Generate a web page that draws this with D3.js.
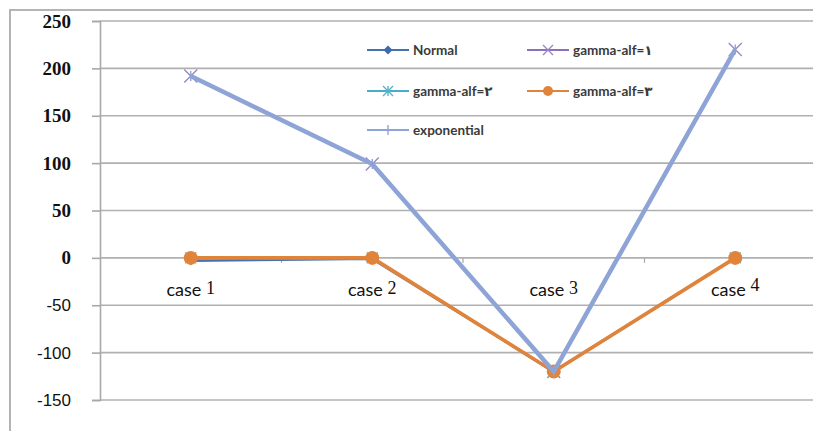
<!DOCTYPE html>
<html>
<head>
<meta charset="utf-8">
<script src="https://cdn.jsdelivr.net/npm/d3@7"></script>
<style>
  html, body { margin: 0; padding: 0; background: #fff; overflow: hidden; }
  svg { display: block; }
</style>
</head>
<body>
<svg id="chart" width="813" height="431"></svg>
<script>
// Categories and series values
const categories = ["1", "2", "3", "4"];
const seriesNames = ["Normal", "gamma-alf=\u0661", "gamma-alf=\u0662", "gamma-alf=\u0663", "exponential"];
const normalValues = [-3, -1, -120, 0];
const gamma1Values = [192, 99, -120, 220];
const gamma2Values = [0, 0, -120, 0];
const gamma3Values = [0, 0, -120, 0];
const exponentialValues = [192, 99, -120, 220];
const yTicks = [250, 200, 150, 100, 50, 0, -50, -100, -150];

const svg = d3.select("#chart");

// Plot area
const plotLeft = 100, plotTop = 21, plotBottom = 400, plotRight = 826;

const x = d3.scaleBand().domain(categories).range([plotLeft, plotRight]).padding(0);
const y = d3.scaleLinear().domain([-150, 250]).range([plotBottom, plotTop]);

// Outer frame (top and left edges)
svg.append("path")
  .attr("d", "M10,431 V10 H813")
  .attr("fill", "none").attr("stroke", "#b4b4b4").attr("stroke-width", 2);

// Horizontal gridlines
svg.append("g").selectAll("line").data(yTicks).join("line")
  .attr("x1", plotLeft).attr("x2", plotRight)
  .attr("y1", d => y(d)).attr("y2", d => y(d))
  .attr("stroke", "#b0b0b0").attr("stroke-width", 1.6);

// Y axis (plain hyphen for negatives)
const yAxis = d3.axisLeft(y).tickValues(yTicks).tickSize(8).tickPadding(21).tickFormat(d => String(d));
const gy = svg.append("g").attr("transform", `translate(${plotLeft},0)`).call(yAxis);
gy.select(".domain").attr("stroke", "#a8a8a8").attr("stroke-width", 1.6);
gy.selectAll(".tick line").attr("stroke", "#a8a8a8").attr("stroke-width", 1.6);
gy.selectAll(".tick text")
  .attr("fill", "#111")
  .style("font-family", d => d >= 0 ? "'Liberation Serif', serif" : "'Liberation Sans', Arial, sans-serif")
  .style("font-size", d => d >= 0 ? "19px" : "17px")
  .style("font-weight", d => d >= 0 ? "bold" : "normal");

// Category boundary ticks on the zero line
const bounds = categories.slice(1).map(c => x(c));
svg.append("g").selectAll("line").data(bounds).join("line")
  .attr("x1", d => d).attr("x2", d => d)
  .attr("y1", y(0)).attr("y2", y(0) + 5)
  .attr("stroke", "#a8a8a8").attr("stroke-width", 1.2);

// Category labels
const catLabels = svg.append("g").selectAll("text").data(categories).join("text")
  .attr("x", d => x(d) + x.bandwidth() / 2)
  .attr("y", 296)
  .attr("text-anchor", "middle")
  .attr("fill", "#111");
catLabels.append("tspan")
  .style("font-family", "Lato, 'Open Sans', sans-serif")
  .style("font-size", "18px")
  .text("case ");
catLabels.append("tspan")
  .attr("dy", d => d === "4" ? -5 : -2)
  .style("font-family", "'Liberation Serif', serif")
  .style("font-size", "18px")
  .text(d => d);

// Marker shapes
function drawMarker(g, type, color, size) {
  const s = size / 2;
  if (type === "diamond") {
    g.append("path").attr("d", `M0,${-s} L${s},0 L0,${s} L${-s},0 Z`).attr("fill", color);
  } else if (type === "x") {
    g.append("path").attr("d", `M${-s},${-s} L${s},${s} M${-s},${s} L${s},${-s}`)
      .attr("stroke", color).attr("stroke-width", 1.4).attr("fill", "none");
  } else if (type === "star") {
    g.append("path").attr("d", `M${-s},${-s} L${s},${s} M${-s},${s} L${s},${-s} M0,${-s} L0,${s}`)
      .attr("stroke", color).attr("stroke-width", 1.4).attr("fill", "none");
  } else if (type === "circle") {
    g.append("circle").attr("r", s).attr("fill", color);
  } else if (type === "plus") {
    g.append("path").attr("d", `M0,${-s} L0,${s}`)
      .attr("stroke", color).attr("stroke-width", 1.4).attr("fill", "none");
  }
}

const series = [
  { name: seriesNames[0], values: normalValues, color: "#4472b0", width: 2.5, marker: "diamond", mcolor: "#3e6aab", msize: 9 },
  { name: seriesNames[1], values: gamma1Values, color: "#8a72b8", width: 2.5, marker: "x", mcolor: "#9c86c6", msize: 13 },
  { name: seriesNames[2], values: gamma2Values, color: "#4aacc6", width: 2.5, marker: "star", mcolor: "#56b4cc", msize: 11 },
  { name: seriesNames[3], values: gamma3Values, color: "#e0843c", width: 3.6, marker: "circle", mcolor: "#e0843c", msize: 14 },
  { name: seriesNames[4], values: exponentialValues, color: "#8ea4d6", width: 4.5, marker: "plus", mcolor: "#8ea4d6", msize: 10 }
];

const line = d3.line()
  .x((d, i) => x(categories[i]) + x.bandwidth() / 2)
  .y(d => y(d));

series.forEach(s => {
  const g = svg.append("g");
  g.append("path").attr("d", line(s.values))
    .attr("fill", "none").attr("stroke", s.color).attr("stroke-width", s.width)
    .attr("stroke-linejoin", "round");
  s.values.forEach((v, i) => {
    const mg = g.append("g").attr("transform", `translate(${x(categories[i]) + x.bandwidth() / 2},${y(v)})`);
    drawMarker(mg, s.marker, s.mcolor, s.msize);
  });
});

// Legend
const legendPos = [
  { x: 367, y: 50 }, { x: 527, y: 50 },
  { x: 367, y: 91 }, { x: 527, y: 91 },
  { x: 367, y: 130 }
];
series.forEach((s, i) => {
  const p = legendPos[i];
  const g = svg.append("g").attr("transform", `translate(${p.x},${p.y})`);
  g.append("line").attr("x1", 0).attr("x2", 42).attr("y1", 0).attr("y2", 0)
    .attr("stroke", s.color).attr("stroke-width", 1.8);
  const mg = g.append("g").attr("transform", "translate(21,0)");
  drawMarker(mg, s.marker, s.mcolor, Math.min(s.msize, 10));
  g.append("text").attr("x", 46).attr("y", 4.5)
    .style("font-family", "Lato, 'DejaVu Sans', sans-serif")
    .style("font-size", "13.5px")
    .style("font-weight", "bold")
    .attr("fill", "#3a3a3a")
    .text(s.name);
});
</script>
</body>
</html>
